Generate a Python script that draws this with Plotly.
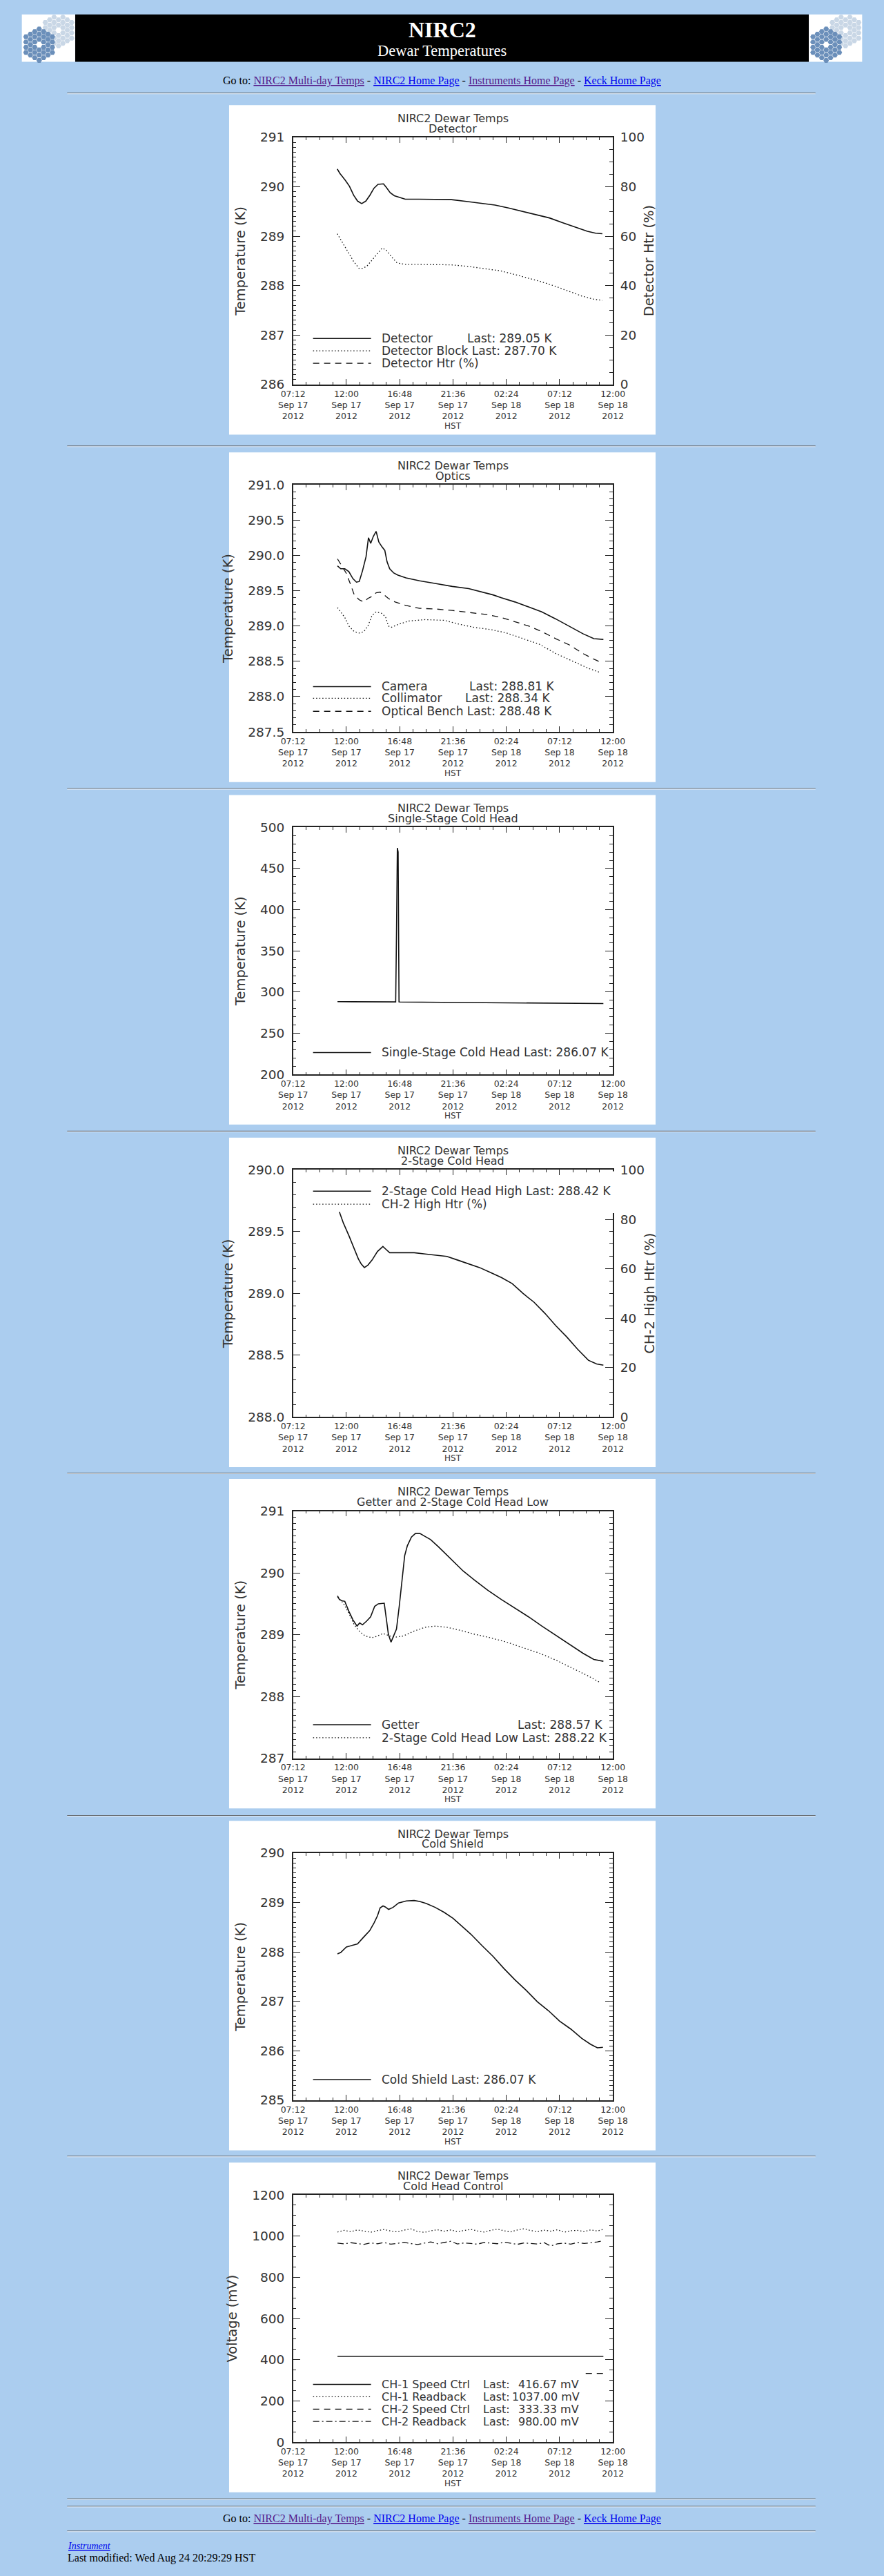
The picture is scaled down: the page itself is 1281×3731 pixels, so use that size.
import pandas as pd
import plotly.graph_objects as go

W, H = 1281, 3731
PAGE = "#ABCDEF"
INK = "#222222"
TXT = "#333333"
SANS = "DejaVu Sans"
SERIF = "Liberation Serif"
LINK = "#0000EE"
VISITED = "#551A8B"

T0 = pd.Timestamp("2012-09-17 07:12")
T1 = pd.Timestamp("2012-09-18 12:00")

# time axis ticks (hours after 07:12 Sep 17)
tick_hours = [0, 4.8, 9.6, 14.4, 19.2, 24.0, 28.8]
tick_clock = ["07:12", "12:00", "16:48", "21:36", "02:24", "07:12", "12:00"]
tick_day = ["Sep 17", "Sep 17", "Sep 17", "Sep 17", "Sep 18", "Sep 18", "Sep 18"]
tick_year = ["2012", "2012", "2012", "2012", "2012", "2012", "2012"]

# --- Detector
det_t = [3.98, 4.22, 4.71, 5.08, 5.45, 5.81, 6.18, 6.55, 6.92, 7.28, 7.65, 8.14, 8.39, 8.75, 9.12, 9.61,
         10.1, 11.33, 12.8, 14.26, 15.73, 16.96, 18.18, 19.4, 20.63, 21.85, 23.08, 24.3, 25.53, 26.5, 27.24, 27.85]
det_v = [290.36, 290.27, 290.13, 290.01, 289.83, 289.71, 289.66, 289.71, 289.83, 289.97, 290.05, 290.06, 289.99,
         289.88, 289.82, 289.78, 289.75, 289.75, 289.75, 289.74, 289.70, 289.66, 289.63, 289.57, 289.50, 289.44,
         289.37, 289.27, 289.18, 289.10, 289.06, 289.05]
blk_t = [3.98, 4.47, 4.96, 5.45, 5.94, 6.3, 6.67, 7.16, 7.65, 8.02, 8.39, 8.88, 9.37, 10.1, 11.33, 12.8, 14.26,
         15.73, 17.2, 18.67, 19.89, 21.12, 22.34, 23.57, 24.79, 26.0, 26.98, 27.85]
blk_v = [289.05, 288.86, 288.67, 288.49, 288.35, 288.35, 288.40, 288.53, 288.67, 288.76, 288.72, 288.58, 288.46,
         288.43, 288.43, 288.43, 288.42, 288.39, 288.35, 288.30, 288.23, 288.16, 288.08, 287.99, 287.89, 287.79,
         287.73, 287.70]

# --- Optics
cam_t = [4.0, 4.29, 4.66, 5.02, 5.39, 5.71, 5.96, 6.25, 6.57, 6.79, 6.99, 7.23, 7.48, 7.72, 8.01, 8.26, 8.46,
         8.70, 9.07, 9.44, 10.17, 11.4, 12.87, 14.34, 15.81, 17.03, 18.01, 18.75, 19.98, 21.2, 22.4, 23.65, 24.9,
         26.1, 27.08, 27.94]
cam_v = [289.85, 289.81, 289.81, 289.77, 289.67, 289.62, 289.63, 289.78, 289.98, 290.25, 290.17, 290.27, 290.34,
         290.19, 290.12, 290.07, 289.91, 289.81, 289.75, 289.72, 289.68, 289.64, 289.60, 289.56, 289.53, 289.48,
         289.44, 289.40, 289.34, 289.27, 289.20, 289.10, 288.99, 288.89, 288.82, 288.81]
col_t = [4.0, 4.29, 4.66, 5.02, 5.51, 5.96, 6.37, 6.74, 7.11, 7.48, 7.97, 8.33, 8.58, 8.82, 9.44, 10.42, 11.89,
         13.6, 14.83, 16.3, 17.77, 19.24, 20.7, 22.2, 23.65, 25.15, 26.6, 27.7]
col_v = [289.26, 289.20, 289.12, 289.00, 288.92, 288.90, 288.92, 289.00, 289.15, 289.20, 289.18, 289.13, 289.00,
         288.98, 289.02, 289.07, 289.09, 289.08, 289.03, 288.98, 288.95, 288.90, 288.82, 288.74, 288.61, 288.50,
         288.40, 288.34]
ben_t = [4.0, 4.29, 4.78, 5.15, 5.51, 5.96, 6.37, 6.74, 7.11, 7.48, 7.84, 8.21, 8.58, 9.19, 10.17, 11.4, 12.87,
         14.34, 15.81, 17.52, 18.75, 19.98, 21.2, 22.4, 23.65, 24.9, 26.1, 27.08, 27.8]
ben_v = [289.95, 289.88, 289.75, 289.60, 289.44, 289.37, 289.34, 289.39, 289.42, 289.47, 289.48, 289.44, 289.39,
         289.34, 289.29, 289.25, 289.24, 289.22, 289.19, 289.16, 289.12, 289.06, 289.00, 288.92, 288.82, 288.73,
         288.61, 288.53, 288.48]

# --- Single-stage cold head
ss_t = [4.0, 5.5, 7.0, 8.5, 9.24, 9.32, 9.39, 9.46, 9.54, 9.62, 11.0, 14.0, 17.0, 20.0, 23.0, 26.0, 27.94]
ss_v = [288.4, 288.3, 288.2, 288.2, 288.1, 380.0, 475.0, 470.0, 288.1, 288.0, 287.9, 287.6, 287.3, 287.0,
        286.6, 286.2, 286.07]

# --- 2-stage cold head
hi_t = [4.17, 4.53, 5.02, 5.51, 5.88, 6.13, 6.42, 6.74, 7.11, 7.6, 8.09, 8.33, 8.7, 9.44, 10.9, 11.89, 12.87,
        13.85, 14.83, 15.81, 16.79, 17.77, 18.75, 19.73, 20.71, 21.69, 22.67, 23.65, 24.63, 25.61, 26.59, 27.33,
        27.94]
hi_v = [289.66, 289.57, 289.47, 289.36, 289.28, 289.24, 289.21, 289.23, 289.27, 289.34, 289.38, 289.36, 289.33,
        289.33, 289.33, 289.32, 289.31, 289.30, 289.27, 289.24, 289.21, 289.17, 289.13, 289.08, 289.00, 288.93,
        288.84, 288.74, 288.65, 288.55, 288.46, 288.43, 288.42]

# --- Getter and 2-stage low
get_t = [4.0, 4.17, 4.41, 4.66, 5.02, 5.39, 5.76, 6.0, 6.25, 6.62, 6.98, 7.35, 7.67, 8.21, 8.41, 8.58, 8.82,
         9.07, 9.31, 9.56, 9.8, 10.05, 10.29, 10.66, 11.03, 11.4, 11.89, 12.38, 13.11, 13.85, 14.58, 15.32, 16.3,
         17.52, 18.75, 19.98, 21.2, 22.4, 23.65, 24.9, 26.1, 27.08, 27.94]
get_v = [289.63, 289.57, 289.55, 289.54, 289.38, 289.24, 289.14, 289.19, 289.16, 289.22, 289.29, 289.46, 289.50,
         289.51, 289.24, 289.01, 288.88, 288.98, 289.09, 289.46, 289.90, 290.28, 290.44, 290.58, 290.64, 290.64,
         290.59, 290.54, 290.42, 290.29, 290.16, 290.03, 289.89, 289.72, 289.57, 289.43, 289.29, 289.14, 288.99,
         288.85, 288.70, 288.60, 288.57]
low_t = [4.0, 4.53, 5.02, 5.51, 6.0, 6.49, 7.11, 7.6, 8.09, 8.7, 9.19, 9.93, 10.9, 11.89, 12.87, 13.85, 15.07,
         16.3, 17.77, 19.24, 20.7, 22.2, 23.65, 25.15, 26.6, 27.7]
low_v = [289.61, 289.51, 289.35, 289.16, 289.05, 288.98, 288.95, 288.98, 289.02, 288.98, 288.96, 288.98, 289.06,
         289.12, 289.14, 289.12, 289.07, 289.01, 288.95, 288.88, 288.79, 288.70, 288.59, 288.46, 288.33, 288.22]

# --- Cold shield
cs_t = [4.0, 4.3, 4.8, 5.3, 5.8, 6.4, 6.9, 7.3, 7.6, 7.84, 8.1, 8.3, 8.6, 9.0, 9.5, 10.2, 10.9, 11.4, 12.0,
        12.8, 13.6, 14.4, 15.2, 16.0, 17.0, 18.0, 19.0, 20.0, 21.0, 22.0, 23.0, 24.0, 25.0, 26.0, 26.8, 27.4, 27.9]
cs_v = [287.96, 287.99, 288.10, 288.13, 288.16, 288.31, 288.43, 288.59, 288.73, 288.89, 288.93, 288.91, 288.86,
        288.90, 288.99, 289.03, 289.04, 289.02, 288.98, 288.90, 288.80, 288.68, 288.52, 288.36, 288.13, 287.91,
        287.66, 287.43, 287.22, 286.99, 286.81, 286.60, 286.44, 286.25, 286.13, 286.06, 286.07]

# --- Cold head control
cc_t = [4.0, 4.6, 5.2, 5.8, 6.4, 7.0, 7.6, 8.2, 8.8, 9.4, 10.0, 10.6, 11.2, 11.8, 12.4, 13.0, 13.6, 14.2, 14.8,
        15.4, 16.0, 16.6, 17.2, 17.8, 18.4, 19.0, 19.6, 20.2, 20.8, 21.4, 22.0, 22.6, 23.2, 23.8, 24.4, 25.0, 25.6,
        26.2, 26.8, 27.4, 27.94]
ch1_rb = [1020, 1028, 1022, 1030, 1024, 1019, 1027, 1032, 1025, 1021, 1029, 1035, 1023, 1018, 1026, 1031, 1024,
          1030, 1022, 1027, 1033, 1025, 1020, 1028, 1034, 1026, 1021, 1030, 1036, 1027, 1022, 1029, 1024, 1031,
          1019, 1026, 1028, 1022, 1030, 1025, 1033]
ch2_rb = [966, 962, 968, 964, 960, 967, 963, 969, 961, 965, 970, 964, 959, 966, 972, 963, 968, 975, 962, 967,
          964, 961, 969, 966, 963, 971, 965, 960, 967, 964, 962, 968, 952, 963, 966, 961, 969, 964, 967, 972, 978]
ch1_sp_t = [4.0, 27.94]
ch1_sp = [416.67, 416.67]
ch2_sp_t = [26.35, 27.94]
ch2_sp = [333.33, 333.33]

DASHES = {"solid": "solid", "dot": "1.5px,3px", "dash": "9px,7px", "dashdot": "9px,4px,2px,4px"}

charts = [
    dict(sub="Detector", ytitle="Temperature (K)", yr=(286, 291), dt=1, mn=0.1, fmt=".0f",
         right="Detector Htr (%)", lsize=17,
         series=[(det_t, det_v, "solid"), (blk_t, blk_v, "dot")],
         legend=[(340, "solid", [("Detector", 227, "left"), ("Last: 289.05 K", 355, "left")]),
                 (358, "dot", [("Detector Block Last: 287.70 K", 227, "left")]),
                 (376, "dash", [("Detector Htr (%)", 227, "left")])]),
    dict(sub="Optics", ytitle="Temperature (K)", yr=(287.5, 291.0), dt=0.5, mn=0.1, fmt=".1f", right=None,
         lsize=17, series=[(cam_t, cam_v, "solid"), (col_t, col_v, "dot"), (ben_t, ben_v, "dash")],
         legend=[(341, "solid", [("Camera", 227, "left"), ("Last: 288.81 K", 358, "left")]),
                 (358, "dot", [("Collimator", 227, "left"), ("Last: 288.34 K", 352, "left")]),
                 (377, "dash", [("Optical Bench Last: 288.48 K", 227, "left")])]),
    dict(sub="Single-Stage Cold Head", ytitle="Temperature (K)", yr=(200, 500), dt=50, mn=10, fmt=".0f",
         right=None, lsize=17, series=[(ss_t, ss_v, "solid")],
         legend=[(375, "solid", [("Single-Stage Cold Head Last: 286.07 K", 227, "left")])]),
    dict(sub="2-Stage Cold Head", ytitle="Temperature (K)", yr=(288.0, 290.0), dt=0.5, mn=0.1, fmt=".1f",
         right="CH-2 High Htr (%)", lsize=17, series=[(hi_t, hi_v, "solid")],
         legend=[(78, "solid", [("2-Stage Cold Head High Last: 288.42 K", 227, "left")]),
                 (97, "dot", [("CH-2 High Htr (%)", 227, "left")])]),
    dict(sub="Getter and 2-Stage Cold Head Low", ytitle="Temperature (K)", yr=(287, 291), dt=1, mn=0.1,
         fmt=".0f", right=None, lsize=17, series=[(get_t, get_v, "solid"), (low_t, low_v, "dot")],
         legend=[(358, "solid", [("Getter", 227, "left"), ("Last: 288.57 K", 562, "right")]),
                 (377, "dot", [("2-Stage Cold Head Low Last: 288.22 K", 227, "left")])]),
    dict(sub="Cold Shield", ytitle="Temperature (K)", yr=(285, 290), dt=1, mn=0.1, fmt=".0f", right=None,
         lsize=17, series=[(cs_t, cs_v, "solid")],
         legend=[(377, "solid", [("Cold Shield Last: 286.07 K", 227, "left")])]),
    dict(sub="Cold Head Control", ytitle="Voltage (mV)", yr=(0, 1200), dt=200, mn=50, fmt=".0f", right=None,
         lsize=16, series=[(ch1_sp_t, ch1_sp, "solid"), (cc_t, ch1_rb, "dot"), (ch2_sp_t, ch2_sp, "dash"),
                           (cc_t, ch2_rb, "dashdot")],
         legend=[(323, "solid", [("CH-1 Speed Ctrl", 227, "left"), ("Last:", 379, "left"), ("416.67 mV", 527, "right")]),
                 (341, "dot", [("CH-1 Readback", 227, "left"), ("Last:", 379, "left"), ("1037.00 mV", 528, "right")]),
                 (359, "dash", [("CH-2 Speed Ctrl", 227, "left"), ("Last:", 379, "left"), ("333.33 mV", 527, "right")]),
                 (377, "dashdot", [("CH-2 Readback", 227, "left"), ("Last:", 379, "left"), ("980.00 mV", 527, "right")])]),
]

TOPS = [142, 648, 1147, 1646, 2143, 2641, 3139]
IMG_X = 321
HR_Y = [124, 638, 1137, 1636, 2134, 2633, 3129, 3628, 3639, 3675]


def when(hours):
    return [(T0 + pd.Timedelta(hours=h)).strftime("%Y-%m-%d %H:%M:%S") for h in hours]


def fx(x):
    return x / W


def fy(y):
    return 1 - y / H


def name(letter, n):
    return letter if n == 1 else f"{letter}{n}"


def key(letter, n):
    return f"{letter}axis" if n == 1 else f"{letter}axis{n}"


def link(text, color):
    return f"<span style='color:{color}'><u>{text}</u></span>"


fig = go.Figure()
shapes, notes = [], []
layout = {}

xr = [T0.strftime("%Y-%m-%d %H:%M:%S"), T1.strftime("%Y-%m-%d %H:%M:%S")]
xticks = when(tick_hours)
xlabels = [f"{a}<br>{b}<br>{c}" for a, b, c in zip(tick_clock, tick_day, tick_year)]
xdom = [fx(IMG_X + 96), fx(IMG_X + 576)]
right_axis = {1: 8, 4: 9}

for k, c in enumerate(charts, 1):
    top = TOPS[k - 1]
    ydom = [fy(top + 407), fy(top + 47)]
    shapes.append(dict(type="rect", xref="paper", yref="paper", layer="below",
                       x0=fx(IMG_X), x1=fx(IMG_X + 640), y0=fy(top + 480), y1=fy(top),
                       fillcolor="white", line=dict(width=0)))

    layout[key("x", k)] = dict(
        type="date", domain=xdom, anchor=name("y", k), range=xr, fixedrange=True,
        tickmode="array", tickvals=xticks, ticktext=xlabels,
        ticks="inside", ticklen=8, tickwidth=1.2, tickcolor=INK,
        showline=True, linecolor=INK, linewidth=1.5, mirror="ticks",
        showgrid=False, zeroline=False, ticklabelstandoff=1,
        tickfont=dict(family=SANS, size=12.5, color=TXT),
        minor=dict(ticks="inside", ticklen=4, tickwidth=1, tickcolor=INK,
                   dtick=72 * 60 * 1000, tick0=xr[0], showgrid=False))

    lo, hi = c["yr"]
    layout[key("y", k)] = dict(
        domain=ydom, anchor=name("x", k), range=[lo, hi], fixedrange=True,
        tickmode="linear", tick0=lo, dtick=c["dt"], tickformat=c["fmt"],
        ticks="inside", ticklen=11, tickwidth=1.2, tickcolor=INK,
        showline=True, linecolor=INK, linewidth=1.5,
        mirror=False if c["right"] else "ticks",
        showgrid=False, zeroline=False, ticklabelstandoff=7,
        tickfont=dict(family=SANS, size=18.5, color=TXT),
        title=dict(text=c["ytitle"], font=dict(family=SANS, size=19.5, color=TXT), standoff=16),
        minor=dict(ticks="inside", ticklen=5, tickwidth=1, tickcolor=INK, dtick=c["mn"], tick0=lo,
                   showgrid=False))
    if c["right"]:
        n = right_axis[k]
        layout[key("y", n)] = dict(
            overlaying=name("y", k), side="right", anchor=name("x", k), range=[0, 100], fixedrange=True,
            tickmode="linear", tick0=0, dtick=20, ticks="inside", ticklen=11, tickwidth=1.2, tickcolor=INK,
            showline=True, linecolor=INK, linewidth=1.5, showgrid=False, zeroline=False,
            ticklabelstandoff=5, tickfont=dict(family=SANS, size=18.5, color=TXT),
            minor=dict(ticks="inside", ticklen=5, tickwidth=1, tickcolor=INK, dtick=5, tick0=0,
                       showgrid=False))
        # an overlaying axis is only drawn when a trace sits on it; this one draws nothing
        fig.add_trace(go.Scatter(x=[xr[0]], y=[None], mode="lines", xaxis=name("x", k), yaxis=name("y", n),
                                 showlegend=False, hoverinfo="skip"))
        notes.append(dict(xref="paper", yref="paper", x=fx(IMG_X + 631), y=fy(top + 227),
                          text=c["right"], textangle=-90, showarrow=False, xanchor="center", yanchor="middle",
                          font=dict(family=SANS, size=19.5, color=TXT)))

    for t, v, d in c["series"]:
        fig.add_trace(go.Scatter(
            x=when(t), y=v, mode="lines", xaxis=name("x", k), yaxis=name("y", k), showlegend=False,
            hoverinfo="skip",
            line=dict(color="#111111", width=1.6 if d == "solid" else 1.3, dash=DASHES[d])))

    # title lines
    for text, dy in (("NIRC2 Dewar Temps", 19), (c["sub"], 34)):
        notes.append(dict(xref="paper", yref="paper", x=fx(IMG_X + 336), y=fy(top + dy), text=text,
                          showarrow=False, xanchor="center", yanchor="middle",
                          font=dict(family=SANS, size=16, color=TXT)))
    notes.append(dict(xref="paper", yref="paper", x=fx(IMG_X + 336), y=fy(top + 467), text="HST",
                      showarrow=False, xanchor="center", yanchor="middle",
                      font=dict(family=SANS, size=12, color=TXT)))

    # legend drawn IDL style
    for ry, d, texts in c["legend"]:
        shapes.append(dict(type="line", xref="paper", yref="paper",
                           x0=fx(IMG_X + 126), x1=fx(IMG_X + 213), y0=fy(top + ry), y1=fy(top + ry),
                           line=dict(color="#111111", width=1.5 if d == "solid" else 1.3, dash=DASHES[d])))
        for text, rx, anchor in texts:
            notes.append(dict(xref="paper", yref="paper", x=fx(IMG_X + rx), y=fy(top + ry), text=text,
                              showarrow=False, xanchor=anchor, yanchor="middle",
                              font=dict(family=SANS, size=c["lsize"], color=TXT)))

# legend box of the 2-stage plot hides part of its right axis
top4 = TOPS[3]
shapes.append(dict(type="rect", xref="paper", yref="paper", layer="above",
                   x0=fx(IMG_X + 563), x1=fx(IMG_X + 580), y0=fy(top4 + 110), y1=fy(top4 + 49),
                   fillcolor="white", line=dict(width=0)))

# page rules
for y in HR_Y:
    shapes.append(dict(type="line", xref="paper", yref="paper", x0=fx(78), x1=fx(1201),
                       y0=fy(y + 0.5), y1=fy(y + 0.5), line=dict(color="#5a5a5a", width=1)))
    shapes.append(dict(type="line", xref="paper", yref="paper", x0=fx(78), x1=fx(1201),
                       y0=fy(y + 1.5), y1=fy(y + 1.5), line=dict(color="#e6eef8", width=1)))

# header banner
shapes.append(dict(type="rect", xref="paper", yref="paper", layer="below", x0=fx(90), x1=fx(1191),
                   y0=fy(79), y1=fy(10), fillcolor="black", line=dict(width=0)))
for ox in (10, 1191):
    shapes.append(dict(type="rect", xref="paper", yref="paper", layer="below", x0=fx(ox), x1=fx(ox + 80),
                       y0=fy(79), y1=fy(10), fillcolor="white", line=dict(width=0)))

# Keck mirror logos: hexagonal segments on a page-sized pixel axis
R = 4.4
for color, cx, cy in (("#C9D7E6", 55, 33), ("#6B8FBA", 26, 54)):
    xs, ys = [], []
    for ox in (10, 1191):
        for q in range(-3, 4):
            for s in range(-3, 4):
                if abs(q + s) > 3 or (q == 0 and s == 0):
                    continue
                x = ox + cx + 1.5 * R * q
                y = cy + 3 ** 0.5 * R * (s + q / 2)
                if ox + 2 <= x <= ox + 78 and 12 <= y <= 77:
                    xs.append(x)
                    ys.append(y)
    fig.add_trace(go.Scatter(x=xs, y=ys, mode="markers", xaxis="x22", yaxis="y10", showlegend=False,
                             hoverinfo="skip", cliponaxis=False,
                             marker=dict(symbol="hexagon2", size=8, color=color, line=dict(width=0))))
layout["xaxis22"] = dict(domain=[0, 1], range=[0, W], visible=False, fixedrange=True, anchor="y10")
layout["yaxis10"] = dict(domain=[0, 1], range=[H, 0], visible=False, fixedrange=True, anchor="x22")

notes.append(dict(xref="paper", yref="paper", x=fx(640.5), y=fy(32), text="<b>NIRC2</b>", showarrow=False,
                  xanchor="center", yanchor="middle", font=dict(family=SERIF, size=32, color="white")))
notes.append(dict(xref="paper", yref="paper", x=fx(640.5), y=fy(63), text="Dewar Temperatures",
                  showarrow=False, xanchor="center", yanchor="middle",
                  font=dict(family=SERIF, size=22.5, color="white")))

goto = ("Go to: " + link("NIRC2 Multi-day Temps", VISITED) + " - " + link("NIRC2 Home Page", LINK) + " - "
        + link("Instruments Home Page", VISITED) + " - " + link("Keck Home Page", LINK))
for gy in (107, 3658):
    notes.append(dict(xref="paper", yref="paper", x=fx(640), y=fy(gy), text=goto, showarrow=False,
                      xanchor="center", yanchor="middle", font=dict(family=SERIF, size=16, color="black")))

notes.append(dict(xref="paper", yref="paper", x=fx(77), y=fy(3697), text=link("<i>Instrument</i>", LINK),
                  showarrow=False, xanchor="left", yanchor="middle",
                  font=dict(family=SERIF, size=14, color="black")))
notes.append(dict(xref="paper", yref="paper", x=fx(77), y=fy(3715),
                  text="Last modified: Wed Aug 24 20:29:29 HST", showarrow=False, xanchor="left",
                  yanchor="middle", font=dict(family=SERIF, size=16, color="black")))

fig.update_layout(
    width=W, height=H, margin=dict(l=0, r=0, t=0, b=0), autosize=False,
    paper_bgcolor=PAGE, plot_bgcolor="rgba(0,0,0,0)", showlegend=False,
    shapes=shapes, annotations=notes, **layout)

fig.write_html("out.html", config={"displayModeBar": False},
               post_script="document.body.style.margin = '0';")
